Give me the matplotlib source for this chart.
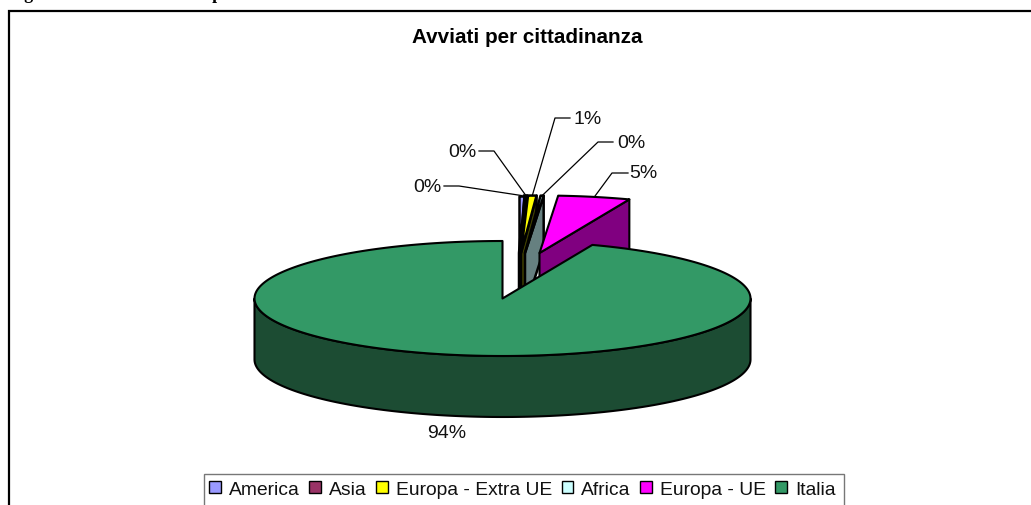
import numpy as np
import matplotlib
matplotlib.use('Agg')
import matplotlib.pyplot as plt
from matplotlib.patches import Patch, Polygon, Rectangle

categories = ['America', 'Asia', 'Europa - Extra UE', 'Africa', 'Europa - UE', 'Italia']
values = [0.3, 0.15, 0.55, 0.2, 4.7, 94.1]

top_colors = ['#9999FF', '#993366', '#FFFF00', '#CCFFFF', '#FF00FF', '#339966']
side_colors = ['#2A2A50', '#33101F', '#404000', '#668080', '#800080', '#1C4C33']

# pie geometry, in picture pixels
radius_x = 248
radius_y = 57.5
depths = [55, 55, 55, 55, 55, 61]
centres_x = [519, 520, 521, 525, 539.5, 502.5]
centres_y = [254, 254, 254, 254, 254, 299.5]
line_widths = [1.8, 1.8, 1.8, 1.8, 1.5, 1.5]

# where the labels sit and where their leader line bends
label_xy = [(427, 187), (462, 152), (587.5, 119), (631, 143), (643.5, 173), (447, 434)]
bend_xy = [[(444, 187), (459, 187)], [(479, 152), (494, 152)], [(570, 119), (555, 119)],
           [(613, 143), (598, 143)], [(628, 174), (612, 174)], None]

plt.rcParams['font.family'] = ['Liberation Sans', 'DejaVu Sans']

fig = plt.figure(figsize=(10.31, 5.06), dpi=100)
ax = fig.add_axes([0, 0, 1, 1])
ax.set_xlim(0, 1031)
ax.set_ylim(506, 0)
ax.axis('off')


def rim(cx, cy, angles):
    return np.column_stack([cx + radius_x * np.sin(angles), cy - radius_y * np.cos(angles)])


def draw_slice(i, t1, t2):
    cx, cy, depth = centres_x[i], centres_y[i], depths[i]
    down = np.array([0, depth])
    apex = np.array([[cx, cy]])
    z = 3 + i
    edge = dict(edgecolor='black', linewidth=line_widths[i], joinstyle='round', zorder=z)

    # cut faces, only the ones that turn towards the viewer
    if t2 < np.pi:
        end = rim(cx, cy, np.array([t2]))
        face = np.vstack([apex, end, end + down, apex + down])
        ax.add_patch(Polygon(face, facecolor=side_colors[i], **edge))

    # outer wall along the front of the rim
    a1 = max(t1, np.pi / 2)
    a2 = min(t2, 3 * np.pi / 2)
    if a2 > a1:
        front = rim(cx, cy, np.linspace(a1, a2, 200))
        wall = np.vstack([front, (front + down)[::-1]])
        ax.add_patch(Polygon(wall, facecolor=side_colors[i], **edge))

    # top of the slice
    top = np.vstack([apex, rim(cx, cy, np.linspace(t1, t2, 300))])
    ax.add_patch(Polygon(top, facecolor=top_colors[i], **edge))


fractions = np.array(values) / np.sum(values)
stops = np.concatenate([[0], np.cumsum(fractions)]) * 2 * np.pi

for i in range(len(values)):
    draw_slice(i, stops[i], stops[i + 1])

# data labels and leader lines
for i, val in enumerate(values):
    ax.text(label_xy[i][0], label_xy[i][1], '{:.0f}%'.format(np.floor(val + 0.5)), ha='center', va='center',
            fontsize=14, color='#111111', zorder=20)
    if bend_xy[i] is not None:
        mid = (stops[i] + stops[i + 1]) / 2
        anchor = rim(centres_x[i], centres_y[i], np.array([mid]))[0]
        pts = np.array(bend_xy[i] + [tuple(anchor)])
        ax.plot(pts[:, 0], pts[:, 1], color='black', lw=0.9, zorder=19)

# chart frame, cut off at the bottom and right by the page
ax.plot([8.5, 8.5, 1031], [506, 12, 12], color='black', lw=1.6, zorder=1, solid_joinstyle='miter')

# page caption above the frame, only the descenders stay in the picture
ax.text(8, -1, 'Figura 7 - Avviati in Italia per', family='Liberation Serif', fontweight='bold', fontsize=13,
        ha='left', va='baseline', color='black', clip_on=False)

ax.text(527, 37, 'Avviati per cittadinanza', ha='center', va='center', fontweight='bold', fontsize=14.9, color='black')

# legend
ax.add_patch(Rectangle((203.5, 474.5), 640, 40, facecolor='white', edgecolor='#777777', linewidth=1.0, zorder=1))
handles = [Patch(facecolor=c, edgecolor='black', linewidth=1.0) for c in top_colors]
ax.legend(handles, categories, ncol=6, frameon=False, loc='center', bbox_to_anchor=(522.5, 490.5),
          bbox_transform=ax.transData, fontsize=13.9, handlelength=0.61, handleheight=0.61, handletextpad=0.42,
          columnspacing=0.48, borderpad=0, borderaxespad=0, labelcolor='#111111')

fig.savefig('out.png', dpi=100)
